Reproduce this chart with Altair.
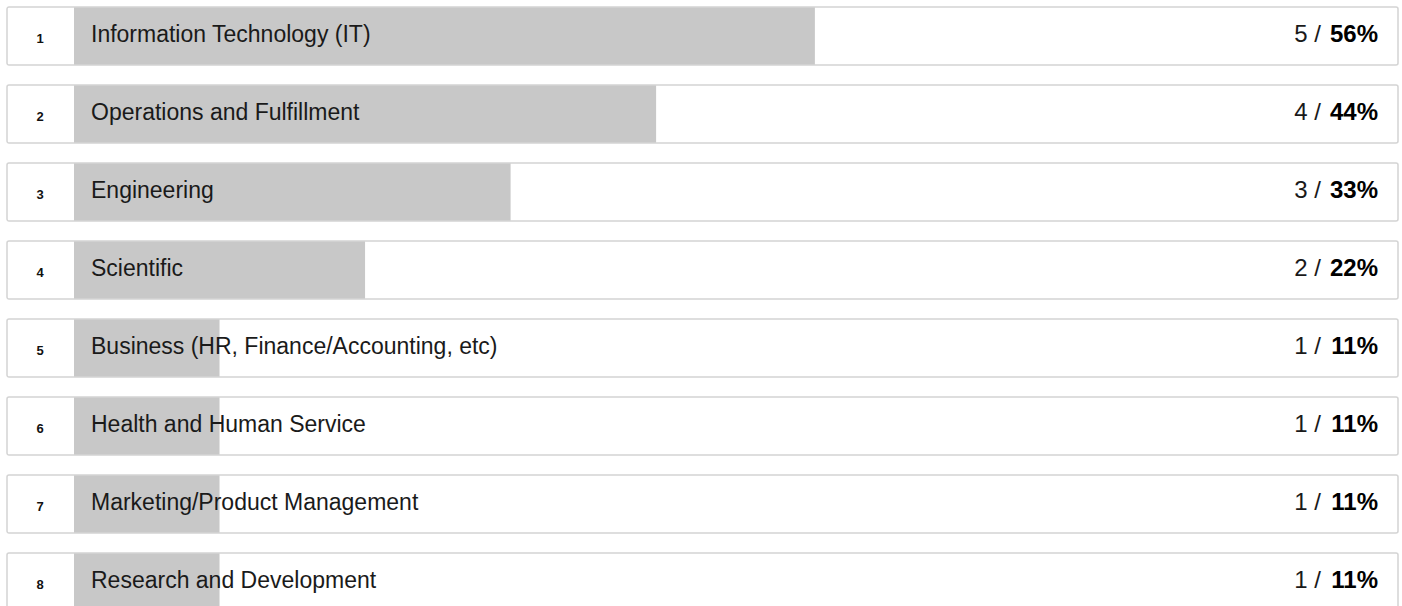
import altair as alt
import pandas as pd

ranks = [1, 2, 3, 4, 5, 6, 7, 8]
categories = [
    "Information Technology (IT)",
    "Operations and Fulfillment",
    "Engineering",
    "Scientific",
    "Business (HR, Finance/Accounting, etc)",
    "Health and Human Service",
    "Marketing/Product Management",
    "Research and Development",
]
counts = [5, 4, 3, 2, 1, 1, 1, 1]
percents = [56, 44, 33, 22, 11, 11, 11, 11]

df = pd.DataFrame({
    "rank": ranks,
    "category": categories,
    "count": counts,
    "pct": percents,
})
df["count_label"] = df["count"].astype(str) + " /"
df["pct_label"] = df["pct"].astype(str) + "%"

FONT = "Liberation Sans"

yenc = alt.Y(
    "rank:O",
    scale=alt.Scale(domain=ranks, range=[7, 611], paddingInner=20 / 78, paddingOuter=0),
    axis=None,
)

base = alt.Chart(df)

box_fill = base.mark_rect(fill="white", cornerRadius=2).encode(
    x=alt.value(7), x2=alt.value(1398), y=yenc
)

bars = base.mark_bar(color="#c8c8c8", cornerRadius=0).encode(
    x=alt.X("pct:Q", scale=alt.Scale(domain=[0, 100], range=[74, 1397]), axis=None),
    y=yenc,
)

box_stroke = base.mark_rect(
    fill=None, fillOpacity=0, stroke="#d4d4d4", strokeWidth=1.5, cornerRadius=2
).encode(x=alt.value(7), x2=alt.value(1398), y=yenc)

rank_text = base.mark_text(
    font=FONT, fontSize=13, fontWeight="bold", color="#111111", align="center",
    baseline="middle", dy=3,
).encode(x=alt.value(40), y=yenc, text="rank:N")

label_text = base.mark_text(
    font=FONT, fontSize=23, color="#1a1a1a", align="left", baseline="middle", dy=-1,
).encode(x=alt.value(91), y=yenc, text="category:N")

count_text = base.mark_text(
    font=FONT, fontSize=24, color="#1a1a1a", align="right", baseline="middle", dy=-1,
).encode(x=alt.value(1321), y=yenc, text="count_label:N")

pct_text = base.mark_text(
    font=FONT, fontSize=24, fontWeight="bold", color="#000000", align="right",
    baseline="middle", dy=-1,
).encode(x=alt.value(1378), y=yenc, text="pct_label:N")

chart = alt.layer(
    box_fill, bars, box_stroke, rank_text, label_text, count_text, pct_text
).properties(
    width=1402, height=606, autosize=alt.AutoSizeParams(type="none"), padding=0,
    background="white",
).configure_view(stroke=None)

chart.save("out.html", embed_options={"renderer": "svg", "actions": False})
